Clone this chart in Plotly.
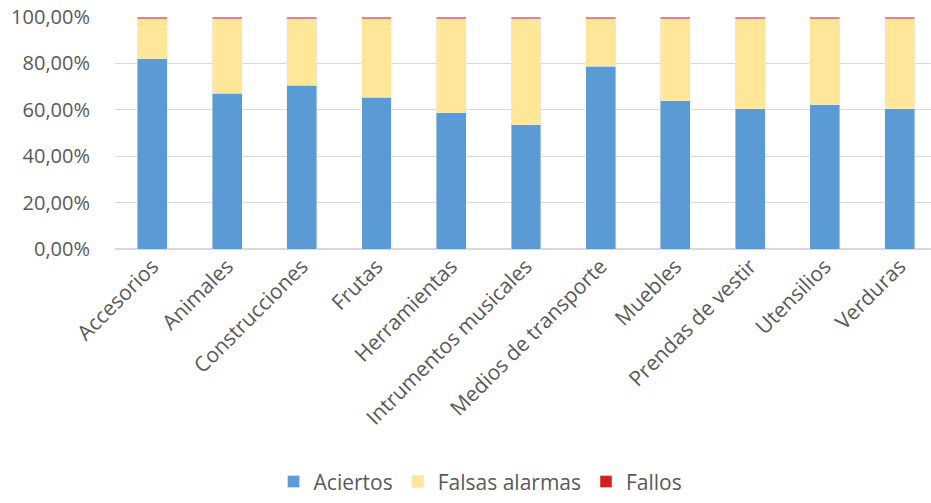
import plotly.graph_objects as go

categorias = ["Accesorios", "Animales", "Construcciones", "Frutas", "Herramientas",
              "Intrumentos musicales", "Medios de transporte", "Muebles",
              "Prendas de vestir", "Utensilios", "Verduras"]
aciertos = [82.1, 67.2, 70.6, 65.5, 58.7, 53.6, 78.7, 63.8, 60.4, 62.1, 60.4]
fallos = [0.8, 0.8, 0.8, 0.8, 0.8, 0.8, 0.8, 0.8, 0.8, 0.8, 0.8]
falsas = [100 - a - f for a, f in zip(aciertos, fallos)]
ytick_vals = [0, 20, 40, 60, 80, 100]
ytick_text = ["0,00%", "20,00%", "40,00%", "60,00%", "80,00%", "100,00%"]

fig = go.Figure()
fig.add_bar(x=categorias, y=aciertos, name="Aciertos", marker_color="#5B9BD5")
fig.add_bar(x=categorias, y=falsas, name="Falsas alarmas", marker_color="#FFE699")
fig.add_bar(x=categorias, y=fallos, name="Fallos", marker_color="#D61F1F")

fig.update_layout(
    width=931, height=503,
    barmode="stack", bargap=0.6,
    plot_bgcolor="white", paper_bgcolor="white",
    margin=dict(l=115, r=0, t=17, b=251),
    font=dict(family="Open Sans", size=21, color="#595959"),
    legend=dict(orientation="h", x=0.448, xanchor="center", y=-1.004, yanchor="middle",
                font=dict(size=21, color="#595959"), traceorder="normal",
                itemwidth=30),
    showlegend=True,
)
fig.update_xaxes(tickangle=-45, range=[-0.5, 10.42], showgrid=False,
                 showline=False, ticks="", automargin=False,
                 ticklabeloverflow="allow")
fig.update_yaxes(range=[0, 100], tickvals=ytick_vals, ticktext=ytick_text,
                 showgrid=True, gridcolor="#D9D9D9", zeroline=True,
                 zerolinecolor="#D9D9D9", ticks="", ticklabelstandoff=24,
                 automargin=False, ticklabeloverflow="allow",
                 tickfont=dict(size=20))
fig.write_html("out.html",
               config={"displayModeBar": False},
               post_script="document.body.style.margin='0';document.body.style.overflow='hidden';")
